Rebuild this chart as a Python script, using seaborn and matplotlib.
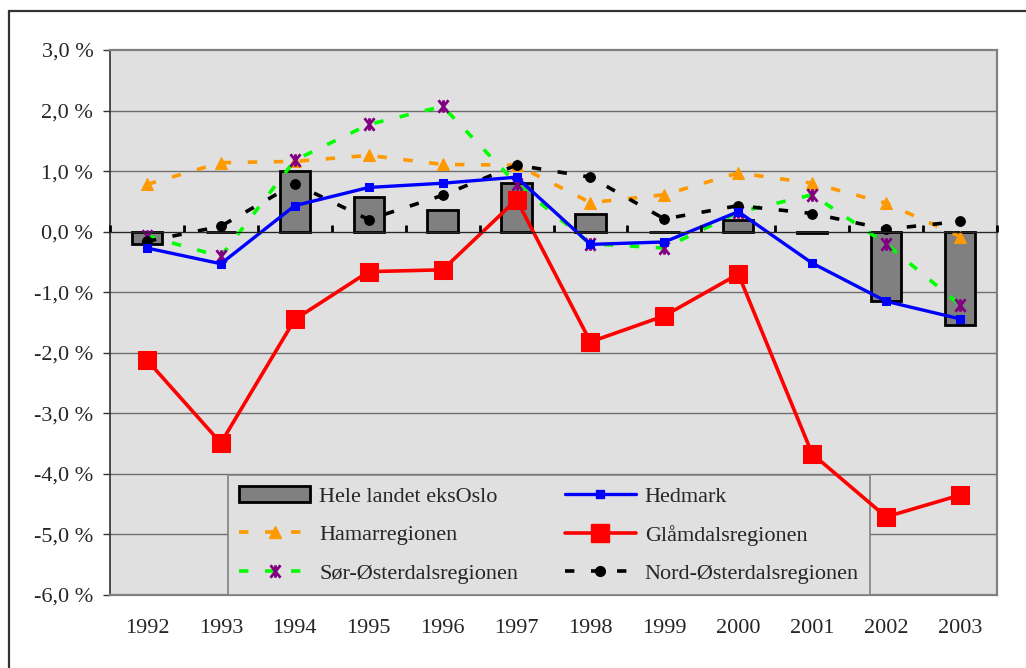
import matplotlib
matplotlib.use("Agg")
import matplotlib.pyplot as plt
from matplotlib.lines import Line2D
from matplotlib.patches import Patch, Rectangle
from matplotlib.path import Path
from matplotlib.ticker import FuncFormatter
import seaborn as sns

# Data (annual change in %)
years = ['1992', '1993', '1994', '1995', '1996', '1997',
         '1998', '1999', '2000', '2001', '2002', '2003']
hele_landet = [-0.21, 0.0, 1.01, 0.58, 0.35, 0.81, 0.29, 0.0, 0.19, -0.03, -1.14, -1.54]
hedmark = [-0.27, -0.53, 0.43, 0.73, 0.80, 0.90, -0.21, -0.17, 0.33, -0.52, -1.15, -1.44]
hamar = [0.78, 1.14, 1.16, 1.26, 1.11, 1.10, 0.48, 0.61, 0.97, 0.80, 0.47, -0.08]
glamdal = [-2.12, -3.49, -1.45, -0.66, -0.63, 0.53, -1.82, -1.39, -0.70, -3.67, -4.71, -4.35]
sor_oster = [-0.07, -0.41, 1.18, 1.77, 2.07, 0.79, -0.20, -0.27, 0.32, 0.61, -0.20, -1.21]
nord_oster = [-0.16, 0.09, 0.79, 0.20, 0.60, 1.10, 0.90, 0.21, 0.43, 0.30, 0.04, 0.17]

sns.set_style("ticks")
plt.rcParams['font.family'] = ['Liberation Serif', 'DejaVu Serif']

fig = plt.figure(figsize=(10.26, 6.68), dpi=100)
ax = fig.add_axes([110 / 1026, 1 - 595 / 668, 887 / 1026, 545 / 668])
ax.set_facecolor('#e0e0e0')

# outer chart frame (runs off the right and bottom edge)
fig.patches.append(Rectangle((9 / 1026, -0.1), 1.2, 1 - 11 / 668 + 0.1,
                             transform=fig.transFigure, fill=False,
                             edgecolor='#333333', lw=1.6, zorder=0))

for v in range(-5, 3):
    ax.axhline(v, color='#6e6e6e', lw=1.0, zorder=0.5)

sns.barplot(x=years, y=hele_landet, color='#808080', width=0.41,
            edgecolor='black', linewidth=2, saturation=1, ax=ax, zorder=2)

# Excel-style star marker: an x with a vertical stroke
star = Path([(-0.8, -1), (0.8, 1), (-0.8, 1), (0.8, -1), (0, -1), (0, 1)],
            [Path.MOVETO, Path.LINETO, Path.MOVETO, Path.LINETO, Path.MOVETO, Path.LINETO])
dash = (2.6, 4.6)
sns.lineplot(x=years, y=hamar, color='#ff9900', lw=2.6,
             marker='^', markersize=9, markeredgecolor='#ff9900', ax=ax, zorder=3,
             sort=False).lines[-1].set_dashes(dash)
sns.lineplot(x=years, y=sor_oster, color='#00ff00', lw=2.6,
             marker=star, markersize=9, markeredgecolor='#800080',
             markeredgewidth=2, ax=ax, zorder=3, sort=False).lines[-1].set_dashes(dash)
sns.lineplot(x=years, y=nord_oster, color='black', lw=2.6,
             marker='o', markersize=7, markeredgecolor='black', ax=ax, zorder=3,
             sort=False).lines[-1].set_dashes(dash)
sns.lineplot(x=years, y=hedmark, color='#0000ff', lw=2.4, marker='s',
             markersize=6, markeredgecolor='#0000ff', ax=ax, zorder=4, sort=False)
sns.lineplot(x=years, y=glamdal, color='#ff0000', lw=2.6, marker='s',
             markersize=13, markeredgecolor='#ff0000', ax=ax, zorder=4, sort=False)

ax.set_xlim(-0.5, len(years) - 0.5)
ax.set_ylim(-6, 3)
ax.set_yticks(range(-6, 4))
ax.yaxis.set_major_formatter(FuncFormatter(lambda v, p: f"{v:.1f} %".replace('.', ',')))
ax.tick_params(axis='y', length=5, width=1, color='#333333', labelsize=16, pad=7)
ax.tick_params(axis='x', length=0, labelsize=16, pad=17)
ax.set_xlabel('')
ax.set_ylabel('')

for s in ['top', 'right', 'bottom']:
    ax.spines[s].set_color('#808080')
    ax.spines[s].set_linewidth(1.6)
ax.spines['left'].set_color('#333333')
ax.spines['left'].set_linewidth(1.2)

# category axis crossing at zero, with ticks between categories
zero_pos = (0 - (-6)) / 9
sec = ax.secondary_xaxis(zero_pos)
sec.set_xticks([i - 0.5 for i in range(len(years) + 1)])
sec.set_xticklabels([])
sec.spines['bottom'].set_linewidth(3)
sec.spines['bottom'].set_color('black')
sec.tick_params(axis='x', direction='out', length=5, width=2, color='black')
sec.set_zorder(5)

handles = [
    Patch(facecolor='#808080', edgecolor='black', lw=2),
    Line2D([], [], color='#ff9900', lw=2.6, dashes=dash, marker='^', markersize=9),
    Line2D([], [], color='#00ff00', lw=2.6, dashes=dash, marker=star,
           markersize=9, markeredgecolor='#800080', markeredgewidth=2),
    Line2D([], [], color='#0000ff', lw=2.4, marker='s', markersize=6),
    Line2D([], [], color='#ff0000', lw=2.6, marker='s', markersize=13),
    Line2D([], [], color='black', lw=2.6, dashes=dash, marker='o', markersize=7),
]
labels = ['Hele landet eksOslo', 'Hamarregionen', 'Sør-Østerdalsregionen',
          'Hedmark', 'Glåmdalsregionen', 'Nord-Østerdalsregionen']
leg = ax.legend(handles, labels, ncol=2, loc='lower left',
                bbox_to_anchor=((228 - 110) / 887, 0),
                fontsize=16, frameon=True, fancybox=False,
                facecolor='#e0e0e0', edgecolor='#808080', framealpha=1,
                handlelength=3.2, handletextpad=0.4, columnspacing=2.1,
                borderaxespad=0, borderpad=0.5, labelspacing=0.8)
leg.get_frame().set_linewidth(1.2)
leg.set_zorder(3.5)

fig.savefig('out.png', dpi=100)
